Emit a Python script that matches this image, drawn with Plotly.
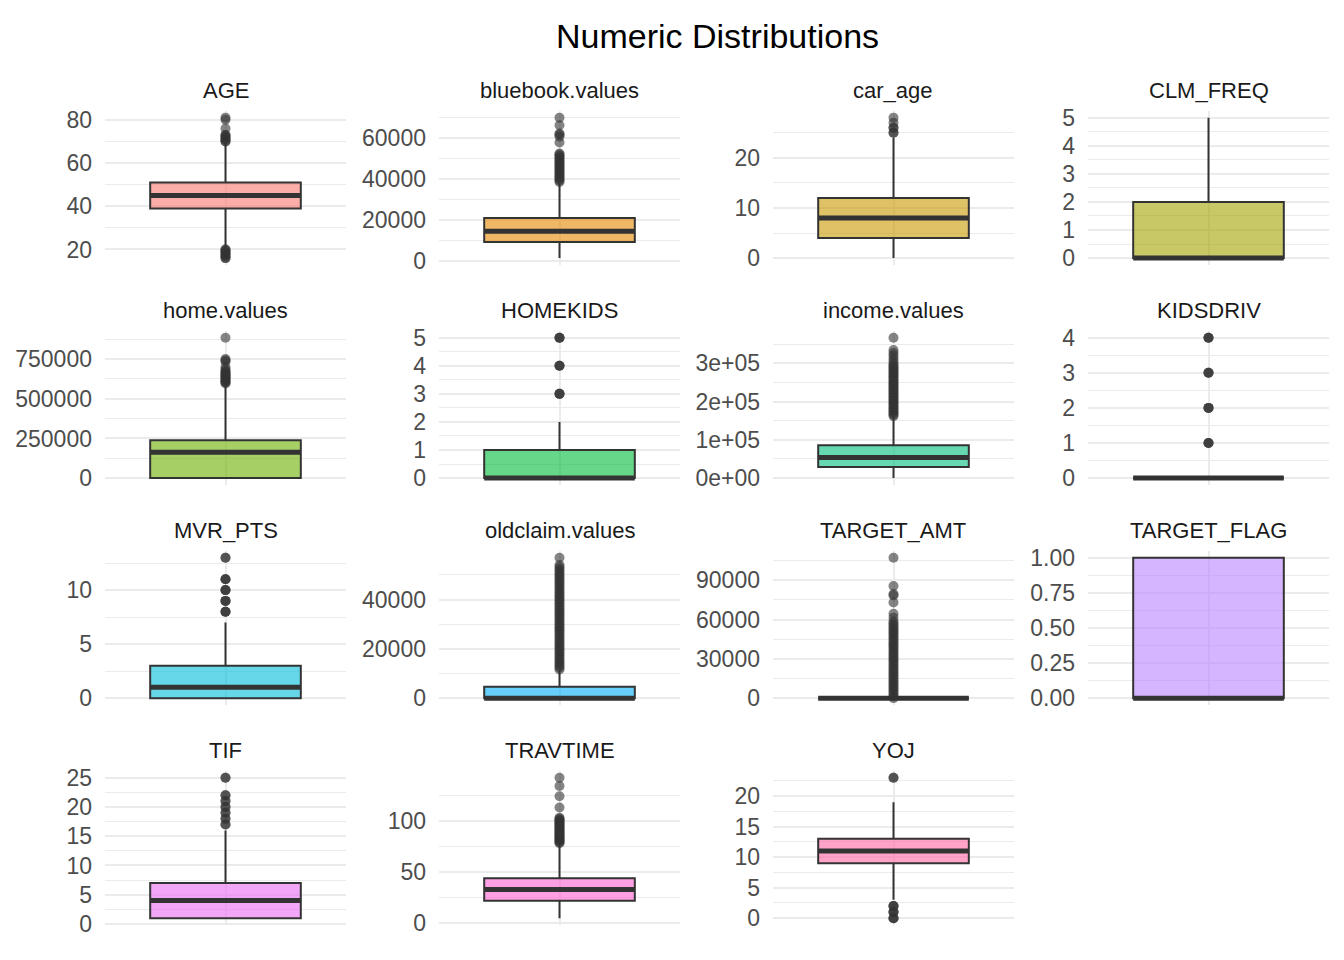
import plotly.graph_objects as go

# one panel per numeric variable (facet order)
variables = ["AGE", "bluebook.values", "car_age", "CLM_FREQ", "home.values", "HOMEKIDS",
             "income.values", "KIDSDRIV", "MVR_PTS", "oldclaim.values", "TARGET_AMT",
             "TARGET_FLAG", "TIF", "TRAVTIME", "YOJ"]

# ggplot hue palette for 15 groups
fill_colors = ["#F8766D", "#E58700", "#C99800", "#A3A500", "#6BB100", "#00BA38", "#00BF7D",
               "#00C0AF", "#00BCD8", "#00B0F6", "#619CFF", "#B983FF", "#E76BF3", "#FD61D1",
               "#FF67A4"]

# box statistics
q1 = [39, 9300, 4, 0, 0, 0, 29000, 0, 0, 0, 0, 0, 1, 22, 9]
median = [45, 14500, 8, 0, 163000, 0, 54000, 0, 1, 0, 0, 0, 4, 33, 11]
q3 = [51, 21000, 12, 2, 239000, 1, 86000, 0, 3, 4600, 0, 1, 7, 44, 13]
whisker_low = [21, 1500, 0, 0, 0, 0, 0, 0, 0, 0, 0, 0, 1, 5, 3]
whisker_high = [69, 38000, 24, 5, 590000, 2, 160000, 0, 7, 11500, 0, 1, 16, 77, 19]

# outliers (repeated values are stacked points in the original data)
outliers = [
    [70, 70, 71, 71, 72, 72, 73, 73, 76, 80, 81, 16, 16, 17, 17, 18, 18, 19, 19, 20, 20],
    [38500, 39200, 39900, 40600, 41300, 42000, 42700, 43400, 44100, 44800, 45500, 46200,
     46900, 47600, 48300, 49000, 49700, 50400, 51100, 51800, 52300, 57600, 60500, 61500,
     62000, 66000, 69700],
    [25, 25, 26, 26, 27, 28],
    [],
    [596000, 602000, 608000, 614000, 620000, 626000, 632000, 638000, 644000, 650000,
     656000, 662000, 668000, 675000, 685000, 700000, 735000, 742000, 750000, 885000],
    [3, 3, 3, 4, 4, 4, 5, 5, 5],
    [162000, 166000, 170000, 174000, 178000, 182000, 186000, 190000, 194000, 198000,
     202000, 206000, 210000, 214000, 218000, 222000, 226000, 230000, 234000, 238000,
     242000, 246000, 250000, 254000, 258000, 262000, 266000, 270000, 274000, 278000,
     282000, 286000, 290000, 294000, 298000, 305000, 312000, 320000, 327000, 335000,
     367000],
    [1, 1, 1, 2, 2, 2, 3, 3, 3, 4, 4, 4],
    [8, 8, 8, 9, 9, 9, 10, 10, 10, 11, 11, 11, 13, 13],
    [11600, 12400, 13200, 14000, 14800, 15600, 16400, 17200, 18000, 18800, 19600, 20400,
     21200, 22000, 22800, 23600, 24400, 25200, 26000, 26800, 27600, 28400, 29200, 30000,
     30800, 31600, 32400, 33200, 34000, 34800, 35600, 36400, 37200, 38000, 38800, 39600,
     40400, 41200, 42000, 42800, 43600, 44400, 45200, 46000, 46800, 47600, 48400, 49200,
     50000, 50800, 51600, 52400, 53200, 54000, 57000],
    [30, 1500, 3000, 4500, 6000, 7500, 9000, 10500, 12000, 13500, 15000, 16500, 18000,
     19500, 21000, 22500, 24000, 25500, 27000, 28500, 30000, 31500, 33000, 34500, 36000,
     37500, 39000, 40500, 42000, 43500, 45000, 46500, 48000, 49500, 51000, 52500, 54000,
     55500, 57000, 58500, 61500, 64500, 73000, 78500, 79500, 85700, 107300],
    [],
    [17, 17, 18, 18, 19, 19, 20, 20, 21, 21, 22, 22, 25, 25],
    [78, 79, 80, 81, 82, 83, 84, 85, 86, 87, 88, 89, 90, 91, 92, 93, 94, 95, 96, 97, 98,
     99, 100, 101, 102, 103, 113, 124, 134, 142],
    [0, 0, 0, 1, 1, 1, 2, 2, 2, 23, 23],
]

tick_values = [
    [20, 40, 60, 80],
    [0, 20000, 40000, 60000],
    [0, 10, 20],
    [0, 1, 2, 3, 4, 5],
    [0, 250000, 500000, 750000],
    [0, 1, 2, 3, 4, 5],
    [0, 100000, 200000, 300000],
    [0, 1, 2, 3, 4],
    [0, 5, 10],
    [0, 20000, 40000],
    [0, 30000, 60000, 90000],
    [0, 0.25, 0.5, 0.75, 1],
    [0, 5, 10, 15, 20, 25],
    [0, 50, 100],
    [0, 5, 10, 15, 20],
]
tick_labels = [
    ["20", "40", "60", "80"],
    ["0", "20000", "40000", "60000"],
    ["0", "10", "20"],
    ["0", "1", "2", "3", "4", "5"],
    ["0", "250000", "500000", "750000"],
    ["0", "1", "2", "3", "4", "5"],
    ["0e+00", "1e+05", "2e+05", "3e+05"],
    ["0", "1", "2", "3", "4"],
    ["0", "5", "10"],
    ["0", "20000", "40000"],
    ["0", "30000", "60000", "90000"],
    ["0.00", "0.25", "0.50", "0.75", "1.00"],
    ["0", "5", "10", "15", "20", "25"],
    ["0", "50", "100"],
    ["0", "5", "10", "15", "20"],
]

# the page body adds 8px around the figure, so the figure is made that much smaller
PAGE = 8
W, H = 1344 - 2 * PAGE, 960 - 2 * PAGE

# panel geometry in page pixels
col_left = [105, 439, 773, 1088]
col_width = 241
row_top = [106.5, 330.8, 555.1, 779.4]
row_height = 157.5
strip_gap = 20.5
box_width = 0.75

font = "Liberation Sans, Arial, sans-serif"
grid = "#EBEBEB"
ink = "#333333"


def rgba(hex_color, alpha):
    h = hex_color.lstrip("#")
    r, g, b = int(h[0:2], 16), int(h[2:4], 16), int(h[4:6], 16)
    return f"rgba({r},{g},{b},{alpha})"


def minor_breaks(ticks):
    step = ticks[1] - ticks[0]
    vals = [ticks[0] - step / 2]
    for a, b in zip(ticks[:-1], ticks[1:]):
        vals.append((a + b) / 2)
    vals.append(ticks[-1] + step / 2)
    return vals


def px_x(x):
    return (x - PAGE) / W


def px_y(y):
    return 1 - (y - PAGE) / H


fig = go.Figure()
layout = dict(
    width=W, height=H,
    margin=dict(l=0, r=0, t=0, b=0),
    paper_bgcolor="white", plot_bgcolor="white",
    showlegend=False,
    font=dict(family=font),
    annotations=[],
)

for i, name in enumerate(variables):
    n = i + 1
    row, col = divmod(i, 4)
    xa, ya = f"x{n}", f"y{n}"

    fig.add_trace(go.Box(
        x=[0], q1=[q1[i]], median=[median[i]], q3=[q3[i]],
        lowerfence=[whisker_low[i]], upperfence=[whisker_high[i]],
        width=box_width, whiskerwidth=0, boxpoints=False,
        fillcolor=rgba(fill_colors[i], 0.6),
        line=dict(color=ink, width=2),
        xaxis=xa, yaxis=ya, hoverinfo="skip",
    ))
    fig.add_trace(go.Scatter(
        x=[-box_width / 2, box_width / 2], y=[median[i], median[i]],
        mode="lines", line=dict(color=ink, width=5),
        xaxis=xa, yaxis=ya, hoverinfo="skip",
    ))
    if outliers[i]:
        fig.add_trace(go.Scatter(
            x=[0] * len(outliers[i]), y=outliers[i], mode="markers",
            marker=dict(color="rgba(51,51,51,0.6)", size=10, line=dict(width=0)),
            xaxis=xa, yaxis=ya, hoverinfo="skip",
        ))

    lo = min([whisker_low[i]] + outliers[i])
    hi = max([whisker_high[i]] + outliers[i])
    pad = (hi - lo) * 0.05

    x0, x1 = px_x(col_left[col]), px_x(col_left[col] + col_width)
    y1, y0 = px_y(row_top[row]), px_y(row_top[row] + row_height)

    key = "" if n == 1 else str(n)
    layout["xaxis" + key] = dict(
        domain=[x0, x1], anchor=ya, range=[-0.6, 0.6],
        tickmode="array", tickvals=[0], showticklabels=False,
        showgrid=True, gridcolor=grid, gridwidth=2, zeroline=False,
        showline=False, ticks="", fixedrange=True,
    )
    layout["yaxis" + key] = dict(
        domain=[y0, y1], anchor=xa, range=[lo - pad, hi + pad],
        tickmode="array", tickvals=tick_values[i], ticktext=tick_labels[i],
        showgrid=True, gridcolor=grid, gridwidth=2, zeroline=False,
        showline=False, ticks="", ticklabelstandoff=12,
        tickfont=dict(family=font, size=23, color="#4D4D4D"),
        minor=dict(tickmode="array", tickvals=minor_breaks(tick_values[i]),
                   showgrid=True, gridcolor=grid, gridwidth=1, ticks=""),
    )
    layout["annotations"].append(dict(
        text=name, xref="paper", yref="paper",
        x=(x0 + x1) / 2, y=px_y(row_top[row] - strip_gap),
        xanchor="center", yanchor="middle", showarrow=False,
        font=dict(family=font, size=22, color="#1A1A1A"),
    ))

layout["annotations"].append(dict(
    text="Numeric Distributions", xref="paper", yref="paper",
    x=px_x((col_left[0] + col_left[3] + col_width) / 2), y=px_y(30),
    xanchor="center", yanchor="middle", showarrow=False,
    font=dict(family=font, size=34, color="black"),
))

fig.update_layout(**layout)
fig.write_html("out.html")
